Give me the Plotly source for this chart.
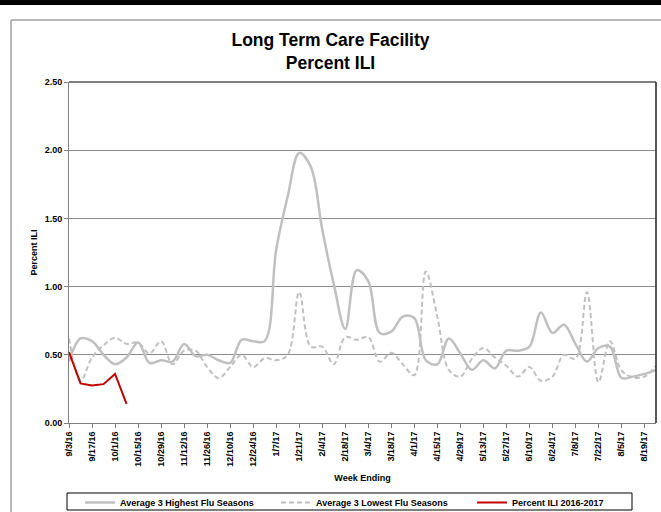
import plotly.graph_objects as go

weeks = ["9/3/16", "9/10/16", "9/17/16", "9/24/16", "10/1/16", "10/8/16", "10/15/16", "10/22/16",
         "10/29/16", "11/5/16", "11/12/16", "11/19/16", "11/26/16", "12/3/16", "12/10/16", "12/17/16",
         "12/24/16", "12/31/16", "1/7/17", "1/14/17", "1/21/17", "1/28/17", "2/4/17", "2/11/17",
         "2/18/17", "2/25/17", "3/4/17", "3/11/17", "3/18/17", "3/25/17", "4/1/17", "4/8/17",
         "4/15/17", "4/22/17", "4/29/17", "5/6/17", "5/13/17", "5/20/17", "5/27/17", "6/3/17",
         "6/10/17", "6/17/17", "6/24/17", "7/1/17", "7/8/17", "7/15/17", "7/22/17", "7/29/17",
         "8/5/17", "8/12/17", "8/19/17", "8/26/17"]

tick_labels = weeks[::2]

high_seasons = [0.45, 0.62, 0.60, 0.50, 0.43, 0.48, 0.59, 0.44, 0.46, 0.45, 0.58, 0.49, 0.50,
                0.46, 0.44, 0.61, 0.60, 0.60, 1.27, 1.66, 1.98, 1.88, 1.42, 1.02, 0.69, 1.12,
                1.04, 0.66, 0.67, 0.78, 0.77, 0.46, 0.43, 0.62, 0.51, 0.39, 0.46, 0.40, 0.53,
                0.53, 0.56, 0.81, 0.66, 0.72, 0.58, 0.45, 0.55, 0.56, 0.33, 0.34, 0.36, 0.39]

low_seasons = [0.62, 0.31, 0.48, 0.57, 0.625, 0.58, 0.59, 0.51, 0.60, 0.43, 0.53, 0.53, 0.41,
               0.33, 0.41, 0.50, 0.41, 0.475, 0.46, 0.50, 0.96, 0.56, 0.56, 0.43, 0.63, 0.61,
               0.63, 0.45, 0.515, 0.43, 0.35, 1.11, 0.78, 0.39, 0.34, 0.47, 0.55, 0.48, 0.42,
               0.34, 0.41, 0.31, 0.34, 0.50, 0.47, 0.96, 0.30, 0.60, 0.385, 0.335, 0.34, 0.42]

current_season = [0.52, 0.29, 0.275, 0.285, 0.36, 0.14]

FONT = "Liberation Sans, Arial, sans-serif"

W, H = 661, 512
L, R, T, B = 69, 5, 82, 89
PW, PH = W - L - R, H - T - B


def px(xp):
    return (xp - L) / PW


def py(yp):
    return (H - B - yp) / PH


fig = go.Figure()
fig.add_trace(go.Scatter(
    x=weeks, y=high_seasons, mode="lines", name="Average 3 Highest Flu Seasons",
    line=dict(color="#C0C0C0", width=2.5, shape="spline", smoothing=1.0)))
fig.add_trace(go.Scatter(
    x=weeks, y=low_seasons, mode="lines", name="Average 3 Lowest Flu Seasons",
    line=dict(color="#C0C0C0", width=2, dash="5px,3px", shape="spline", smoothing=1.0)))
fig.add_trace(go.Scatter(
    x=weeks[:len(current_season)], y=current_season, mode="lines", name="Percent ILI 2016-2017",
    line=dict(color="#C00000", width=2)))

shapes = [
    # top black band
    dict(type="rect", xref="paper", yref="paper", x0=px(-5), x1=px(670), y0=py(5), y1=py(-5),
         fillcolor="black", line=dict(width=0), layer="above"),
    # outer frame (gray)
    dict(type="line", xref="paper", yref="paper", x0=px(11), x1=px(670), y0=py(20), y1=py(20),
         line=dict(color="#A0A0A0", width=1.5)),
    dict(type="line", xref="paper", yref="paper", x0=px(11), x1=px(11), y0=py(20), y1=py(520),
         line=dict(color="#A0A0A0", width=1.5)),
    # plot area top & right border
    dict(type="line", xref="paper", yref="paper", x0=0, x1=1, y0=1, y1=1,
         line=dict(color="black", width=1.2)),
    dict(type="line", xref="paper", yref="paper", x0=1, x1=1, y0=0, y1=1,
         line=dict(color="#202020", width=1.5)),
    # legend box
    dict(type="rect", xref="paper", yref="paper", x0=px(67), x1=px(632), y0=py(510), y1=py(493),
         line=dict(color="black", width=1), fillcolor="rgba(0,0,0,0)"),
]

fig.update_layout(
    width=W, height=H,
    margin=dict(l=L, r=R, t=T, b=B, autoexpand=False),
    paper_bgcolor="white", plot_bgcolor="white",
    font=dict(family=FONT, color="black", size=9),
    title=dict(text="Long Term Care Facility<br>Percent ILI", x=0.5, xref="container",
               xanchor="center", y=1 - 46 / H, yref="container", yanchor="top",
               font=dict(family=FONT, size=17.5, color="black", weight="bold")),
    showlegend=True,
    legend=dict(orientation="h", x=px(80), y=py(488), xanchor="left", yanchor="top",
                entrywidth=151, entrywidthmode="pixels", bgcolor="rgba(0,0,0,0)",
                borderwidth=0, font=dict(family=FONT, size=9, color="black", weight="bold")),
    shapes=shapes,
)

fig.update_xaxes(
    type="category", categoryorder="array", categoryarray=weeks,
    range=[0, len(weeks) - 1],
    tickmode="array", tickvals=tick_labels, ticktext=tick_labels,
    tickangle=-90, tickfont=dict(family=FONT, size=9, color="black", weight="bold"),
    ticks="outside", ticklen=4, tickcolor="#808080",
    showline=True, linecolor="#808080", linewidth=1,
    showgrid=False, zeroline=False,
    title=dict(text="Week Ending", standoff=9,
               font=dict(family=FONT, size=9, color="black", weight="bold")),
)

fig.update_yaxes(
    range=[0, 2.5], tickmode="array", tickvals=[0, 0.5, 1.0, 1.5, 2.0, 2.5],
    tickformat=".2f",
    tickfont=dict(family=FONT, size=9, color="black", weight="bold"),
    ticks="outside", ticklen=4, tickcolor="#808080",
    showline=True, linecolor="#808080", linewidth=1,
    showgrid=True, gridcolor="#8C8C8C", gridwidth=1, zeroline=False,
    title=dict(text="Percent ILI", standoff=5,
               font=dict(family=FONT, size=9, color="black", weight="bold")),
)

fig.write_html("out.html", post_script="document.body.style.margin='0';",
               config={"displayModeBar": False})
